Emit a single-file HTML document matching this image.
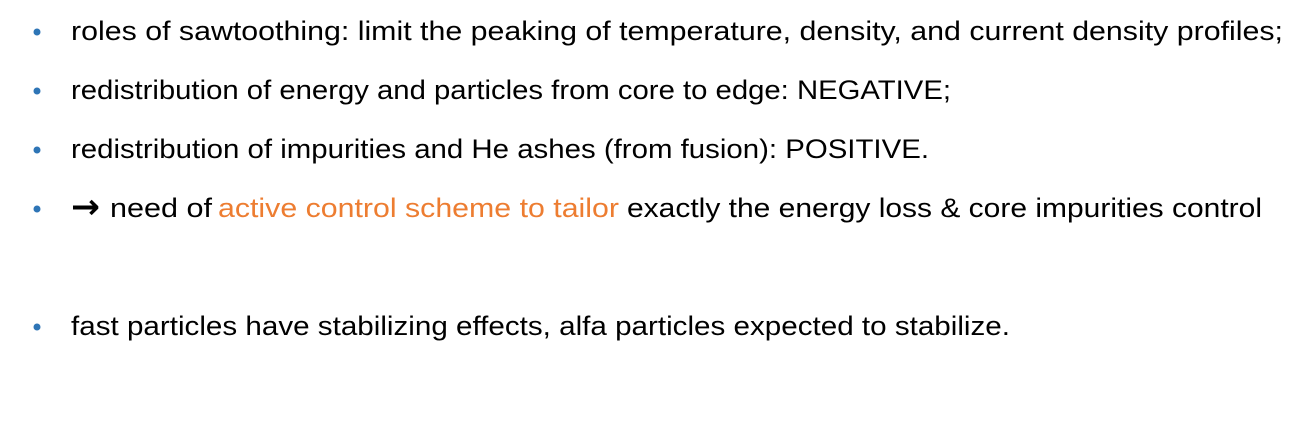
<!DOCTYPE html>
<html><head><meta charset="utf-8"><style>
html,body{margin:0;padding:0;background:#fff;}
svg{display:block;}
text{font-family:"Liberation Sans",sans-serif;font-size:27px;fill:#000;}
</style></head><body>
<svg width="1312" height="426" viewBox="0 0 1312 426">
<g>
<circle cx="37" cy="32" r="3.5" fill="#2E75B6"/>
<text x="71" y="40" textLength="1212" lengthAdjust="spacingAndGlyphs">roles of sawtoothing: limit the peaking of temperature, density, and current density profiles;</text>
</g>
<g>
<circle cx="37" cy="91" r="3.5" fill="#2E75B6"/>
<text x="71" y="99" textLength="880" lengthAdjust="spacingAndGlyphs">redistribution of energy and particles from core to edge: NEGATIVE;</text>
</g>
<g>
<circle cx="37" cy="150" r="3.5" fill="#2E75B6"/>
<text x="71" y="158" textLength="858" lengthAdjust="spacingAndGlyphs">redistribution of impurities and He ashes (from fusion): POSITIVE.</text>
</g>
<g>
<circle cx="37" cy="209" r="3.5" fill="#2E75B6"/>
<text x="71" y="218" textLength="29" lengthAdjust="spacingAndGlyphs" style="font-family:'DejaVu Sans',sans-serif;font-size:34px;font-weight:bold">→</text>
<text x="110" y="217" textLength="102" lengthAdjust="spacingAndGlyphs">need of</text>
<text x="218" y="217" textLength="401" lengthAdjust="spacingAndGlyphs" style="fill:#ED7D31">active control scheme to tailor</text>
<text x="627" y="217" textLength="635" lengthAdjust="spacingAndGlyphs">exactly the energy loss &amp; core impurities control</text>
</g>
<g>
<circle cx="37" cy="327" r="3.5" fill="#2E75B6"/>
<text x="71" y="335" textLength="939" lengthAdjust="spacingAndGlyphs">fast particles have stabilizing effects, alfa particles expected to stabilize.</text>
</g>
</svg>
</body></html>
